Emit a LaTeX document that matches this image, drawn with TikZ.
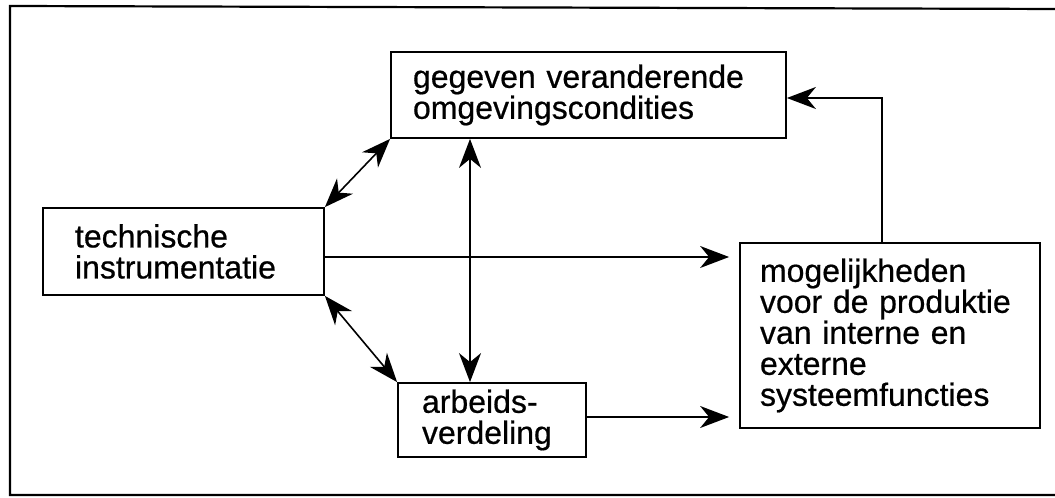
\documentclass[tikz,border=0pt]{standalone}
\usepackage{fontspec}
\setmainfont{Liberation Sans}
\newfontfamily\boxfont{Liberation Sans}[FakeBold=0.6]
\usetikzlibrary{arrows.meta}
\begin{document}
\begin{tikzpicture}[x=1pt,y=1pt,
  box/.style={draw, line width=1.8pt, align=left, inner ysep=0pt,
    font=\boxfont\fontsize{32}{31}\selectfont},
  conn/.style={line width=1.6pt},
  tip/.style={-{Stealth[length=29pt,width=22pt,inset=9pt]}},
  dtip/.style={{Stealth[length=29pt,width=22pt,inset=9pt]}-{Stealth[length=29pt,width=22pt,inset=9pt]}}
]
\useasboundingbox (0,0) rectangle (1055,498);
% frame
\draw[line width=2.2pt] (1060,489) -- (10,492) -- (10,3) -- (1060,3);
% boxes
\node[box, minimum width=395pt, minimum height=86pt, inner xsep=22pt, text width=351pt] (T) at (588.5,403)
  {gegeven veranderende\\omgevingscondities};
\node[box, minimum width=281pt, minimum height=87pt, inner xsep=32pt, text width=217pt] (L) at (183.5,246.5)
  {technische\\instrumentatie};
\node[box, minimum width=188pt, minimum height=74pt, inner xsep=24pt, text width=140pt] (B) at (492,78)
  {arbeids-\\verdeling};
\node[box, minimum width=300pt, minimum height=185pt, inner xsep=20pt, text width=260pt, yshift=-4pt] (R) at (890,166.5)
  {mogelijkheden\\voor de produktie\\van interne en\\externe\\systeemfuncties};
% connectors
\coordinate (vx) at (470,0);
\draw[conn, dtip] (T.south west) -- (L.north east);
\draw[conn, dtip] (L.south east) -- (B.north west);
\draw[conn, dtip] (T.south -| vx) -- (B.north -| vx);
\draw[conn, tip, shorten >=10pt] ([yshift=-5.5pt]L.east) -- ([yshift=-5.5pt]L.east -| R.west);
\draw[conn, tip, shorten >=10pt] ([yshift=3pt]B.east) -- ([yshift=3pt]B.east -| R.west);
\draw[conn, tip] ([xshift=-8pt]R.north) |- ([yshift=-3pt]T.east);
\end{tikzpicture}
\end{document}
